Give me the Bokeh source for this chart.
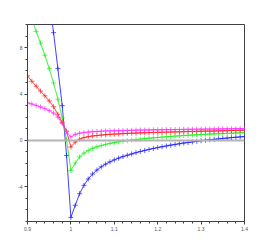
from bokeh.plotting import figure
from bokeh.models import FixedTicker, Span
from bokeh.embed import file_html
from bokeh.resources import INLINE

x = [0.90, 0.91, 0.92, 0.93, 0.94, 0.95, 0.96, 0.97, 0.98, 0.99,
     1.00, 1.01, 1.02, 1.03, 1.04, 1.05, 1.06, 1.07, 1.08, 1.09,
     1.10, 1.11, 1.12, 1.13, 1.14, 1.15, 1.16, 1.17, 1.18, 1.19,
     1.20, 1.21, 1.22, 1.23, 1.24, 1.25, 1.26, 1.27, 1.28, 1.29,
     1.30, 1.31, 1.32, 1.33, 1.34, 1.35, 1.36, 1.37, 1.38, 1.39, 1.40]

blue = [29.0, 25.5, 22.0, 18.8, 15.5, 12.3, 9.3, 6.2, 3.0, -1.3,
        -6.65, -5.6, -4.6, -3.88, -3.33, -2.9, -2.56, -2.28, -2.05, -1.85,
        -1.68, -1.53, -1.40, -1.28, -1.17, -1.06, -0.96, -0.87, -0.78, -0.70,
        -0.62, -0.55, -0.48, -0.41, -0.35, -0.29, -0.23, -0.18, -0.13, -0.08,
        -0.03, 0.01, 0.05, 0.09, 0.13, 0.17, 0.20, 0.24, 0.27, 0.30, 0.33]

green = [11.5, 10.45, 9.4, 8.4, 7.35, 6.2, 4.95, 3.55, 1.95, 0.05,
         -2.6, -1.95, -1.42, -1.1, -0.87, -0.69, -0.55, -0.44, -0.34, -0.26,
         -0.19, -0.13, -0.07, -0.02, 0.03, 0.07, 0.11, 0.15, 0.19, 0.22,
         0.25, 0.28, 0.31, 0.34, 0.37, 0.39, 0.42, 0.44, 0.46, 0.48,
         0.50, 0.52, 0.54, 0.56, 0.57, 0.59, 0.60, 0.62, 0.63, 0.65, 0.66]

red = [5.58, 5.1, 4.68, 4.25, 3.85, 3.4, 2.9, 2.25, 1.55, 0.8,
       -0.58, -0.15, 0.1, 0.24, 0.32, 0.38, 0.42, 0.46, 0.49, 0.52,
       0.54, 0.56, 0.58, 0.60, 0.62, 0.63, 0.65, 0.66, 0.67, 0.68,
       0.69, 0.70, 0.71, 0.72, 0.73, 0.74, 0.75, 0.76, 0.77, 0.78,
       0.79, 0.80, 0.80, 0.81, 0.82, 0.83, 0.84, 0.85, 0.86, 0.87, 0.88]

magenta = [3.24, 3.14, 3.02, 2.89, 2.74, 2.57, 2.36, 2.0, 1.45, 0.75,
           0.30, 0.52, 0.62, 0.68, 0.72, 0.75, 0.77, 0.79, 0.81, 0.82,
           0.83, 0.84, 0.85, 0.86, 0.87, 0.88, 0.89, 0.89, 0.90, 0.91,
           0.91, 0.92, 0.93, 0.93, 0.94, 0.94, 0.95, 0.95, 0.96, 0.96,
           0.97, 0.97, 0.98, 0.98, 0.99, 0.99, 1.0, 1.0, 1.01, 1.01, 1.02]

x_ticks = [0.9, 1.0, 1.1, 1.2, 1.3, 1.4]
x_labels = ["0.9", "1", "1.1", "1.2", "1.3", "1.4"]
x_minor = [0.92, 0.94, 0.96, 0.98, 1.02, 1.04, 1.06, 1.08, 1.12, 1.14, 1.16, 1.18,
           1.22, 1.24, 1.26, 1.28, 1.32, 1.34, 1.36, 1.38]
y_ticks = [-4, 0, 4, 8]
y_labels = ["-4", "0", "4", "8"]
y_minor = [-7, -6, -5, -3, -2, -1, 1, 2, 3, 5, 6, 7, 9, 10]

p = figure(width=271, height=245, x_range=(0.9, 1.4), y_range=(-7, 10),
           output_backend="svg", toolbar_location=None,
           min_border_left=27, min_border_right=27, min_border_top=24, min_border_bottom=24)
p.grid.visible = False
p.outline_line_color = "#404040"
p.outline_line_width = 1
p.background_fill_color = "white"
p.border_fill_color = "white"

p.add_layout(Span(location=0, dimension="width", line_color="#b4b4b4", line_width=2))

series = [(blue, "#2020ff"), (green, "#20f020"), (red, "#ff2020"), (magenta, "#ff30ff")]
for ys, col in series:
    p.line(x, ys, line_color=col, line_width=1, line_alpha=0.85)
    p.scatter(x, ys, marker="cross", size=5, line_color=col, line_width=1, line_alpha=0.7)

p.xaxis.ticker = FixedTicker(ticks=x_ticks, minor_ticks=x_minor)
p.xaxis.major_label_overrides = {t: l for t, l in zip(x_ticks, x_labels)}
p.yaxis.ticker = FixedTicker(ticks=y_ticks, minor_ticks=y_minor)
p.yaxis.major_label_overrides = {t: l for t, l in zip(y_ticks, y_labels)}

for ax in (p.xaxis[0], p.yaxis[0]):
    ax.axis_line_color = "#404040"
    ax.major_tick_line_color = "#404040"
    ax.minor_tick_line_color = "#404040"
    ax.major_tick_out = 3
    ax.major_tick_in = 0
    ax.minor_tick_out = 2
    ax.minor_tick_in = 0
    ax.major_label_text_font = "Liberation Sans"
    ax.major_label_text_font_size = "5px"
    ax.major_label_text_color = "#555555"
    ax.major_label_standoff = 2

open("out.html", "w").write(file_html(p, INLINE))
